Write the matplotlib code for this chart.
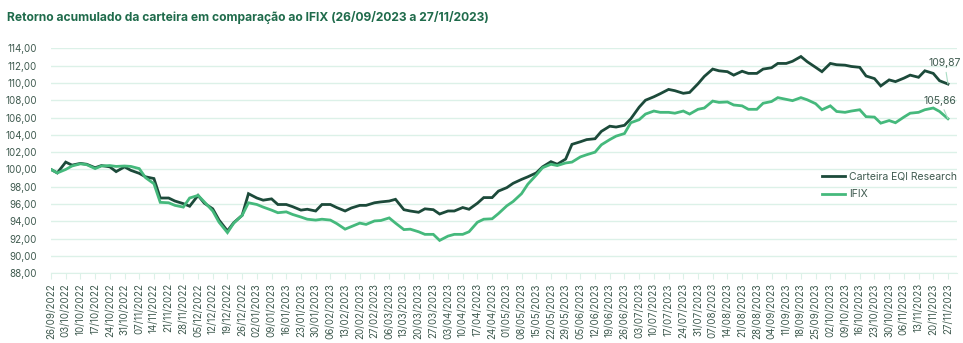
import pandas as pd
import matplotlib.pyplot as plt
import matplotlib.dates as mdates

# twice-weekly readings (Monday / Thursday) from 26/09/2022 to 27/11/2023
carteira = [
    100.0, 99.6, 100.85, 100.5, 100.7, 100.6, 100.2, 100.45, 100.3, 99.75,
    100.3, 99.9, 99.55, 99.15, 98.95, 96.7, 96.7, 96.35, 96.05, 95.75,
    97.0, 96.1, 95.45, 94.15, 92.9, 93.85, 94.7, 97.2, 96.7, 96.45,
    96.6, 95.95, 95.95, 95.7, 95.3, 95.4, 95.2, 95.95, 95.95, 95.6,
    95.2, 95.55, 95.85, 95.85, 96.15, 96.25, 96.35, 96.55, 95.35, 95.2,
    95.05, 95.45, 95.35, 94.85, 95.2, 95.2, 95.6, 95.4, 96.1, 96.75,
    96.75, 97.5, 97.9, 98.4, 98.85, 99.15, 99.6, 100.3, 100.9, 100.6,
    101.2, 102.9, 103.2, 103.45, 103.55, 104.4, 105.0, 104.9, 105.1, 105.85,
    107.2, 108.0, 108.4, 108.75, 109.25, 109.1, 108.8, 108.9, 109.9, 110.75,
    111.6, 111.4, 111.3, 110.9, 111.35, 111.1, 111.1, 111.6, 111.75, 112.25,
    112.25, 112.5, 113.05, 112.45, 111.8, 111.3, 112.25, 112.1, 112.05, 111.9,
    111.8, 110.8, 110.5, 109.65, 110.35, 110.15, 110.55, 110.9, 110.65, 111.4,
    111.1, 110.25, 109.87,
]
ifix = [
    100.0, 99.6, 100.0, 100.4, 100.65, 100.55, 100.1, 100.4, 100.45, 100.35,
    100.4, 100.35, 100.1, 99.05, 98.35, 96.2, 96.15, 95.85, 95.65, 96.7,
    97.0, 96.25, 95.2, 93.9, 92.7, 93.8, 94.7, 96.15, 95.95, 95.65,
    95.3, 95.0, 95.1, 94.8, 94.5, 94.25, 94.15, 94.25, 94.15, 93.75,
    93.1, 93.4, 93.8, 93.65, 94.05, 94.1, 94.4, 93.8, 93.05, 93.1,
    92.8, 92.5, 92.5, 91.8, 92.3, 92.5, 92.5, 92.8, 93.9, 94.25,
    94.3, 94.9, 95.8, 96.3, 97.2, 98.3, 99.35, 100.2, 100.6, 100.45,
    100.75, 100.85, 101.45, 101.7, 102.0, 102.85, 103.45, 103.85, 104.15, 105.4,
    105.75, 106.4, 106.75, 106.6, 106.6, 106.5, 106.75, 106.4, 106.95, 107.1,
    107.9, 107.75, 107.8, 107.45, 107.35, 106.95, 106.95, 107.65, 107.85, 108.3,
    108.1, 107.95, 108.3, 108.05, 107.6, 106.9, 107.35, 106.7, 106.6, 106.75,
    106.9, 106.1, 106.05, 105.35, 105.65, 105.4, 106.05, 106.5, 106.6, 106.9,
    107.1, 106.7, 105.86,
]

mondays = pd.date_range('2022-09-26', '2023-11-27', freq='W-MON')
dates = []
for d in mondays:
    dates.append(d)
    if d != mondays[-1]:
        dates.append(d + pd.Timedelta(days=3))

DARK = '#1c4a3a'
LIGHT = '#45b97c'
GRID = '#dcf1e8'
TXT = '#3f5a4f'

plt.rcParams['font.family'] = ['Inter', 'DejaVu Sans']

fig = plt.figure(figsize=(9.63, 3.43), dpi=100)
ax = fig.add_axes([51 / 963, 1 - 273.3 / 343, 906 / 963, 225 / 343])

ax.plot(dates, carteira, color=DARK, lw=2.0, label='Carteira EQI Research', solid_joinstyle='miter')
ax.plot(dates, ifix, color=LIGHT, lw=2.0, label='IFIX', solid_joinstyle='miter')

ax.set_ylim(88, 114)
ax.set_yticks(range(88, 115, 2))
ax.set_yticklabels([f'{v},00' for v in range(88, 115, 2)])
ax.set_xlim(mondays[0], mondays[-1] + pd.Timedelta(days=4.3))
ax.set_xticks(mondays)
ax.xaxis.set_major_formatter(mdates.DateFormatter('%d/%m/%Y'))

ax.grid(axis='y', color=GRID, lw=1)
ax.set_axisbelow(True)
for s in ['top', 'right', 'left']:
    ax.spines[s].set_visible(False)
ax.spines['bottom'].set_color(GRID)
ax.tick_params(axis='y', length=0, pad=10, labelsize=7, labelcolor=TXT)
ax.tick_params(axis='x', length=4, color=GRID, labelsize=7, labelcolor=TXT,
               labelrotation=90, pad=3)

# end-value labels with thin leader lines
leader = dict(arrowstyle='-', color='#a8dcc3', lw=0.8, shrinkA=1, shrinkB=0)
ax.annotate(f'{carteira[-1]:.2f}'.replace('.', ','), xy=(dates[-1], carteira[-1]),
            xytext=(-14, 15), textcoords='offset points', fontsize=7.5, color=TXT,
            ha='left', va='center', arrowprops=leader)
ax.annotate(f'{ifix[-1]:.2f}'.replace('.', ','), xy=(dates[-1], ifix[-1]),
            xytext=(-17.5, 13), textcoords='offset points', fontsize=7.5, color=TXT,
            ha='left', va='center', arrowprops=leader)

leg = ax.legend(loc='center left', bbox_to_anchor=((822 - 51) / 906, 0.39), frameon=False,
                fontsize=7.5, handlelength=2.2, handletextpad=0.4, labelspacing=0.7,
                borderpad=0, borderaxespad=0)
for t in leg.get_texts():
    t.set_color(TXT)

fig.text(7 / 963, 1 - 17 / 343, 'Retorno acumulado da carteira em comparação ao IFIX (26/09/2023 a 27/11/2023)',
         fontsize=8.7, fontweight='bold', color='#1f6b4b', va='center', ha='left')

fig.savefig('out.png', dpi=100)
